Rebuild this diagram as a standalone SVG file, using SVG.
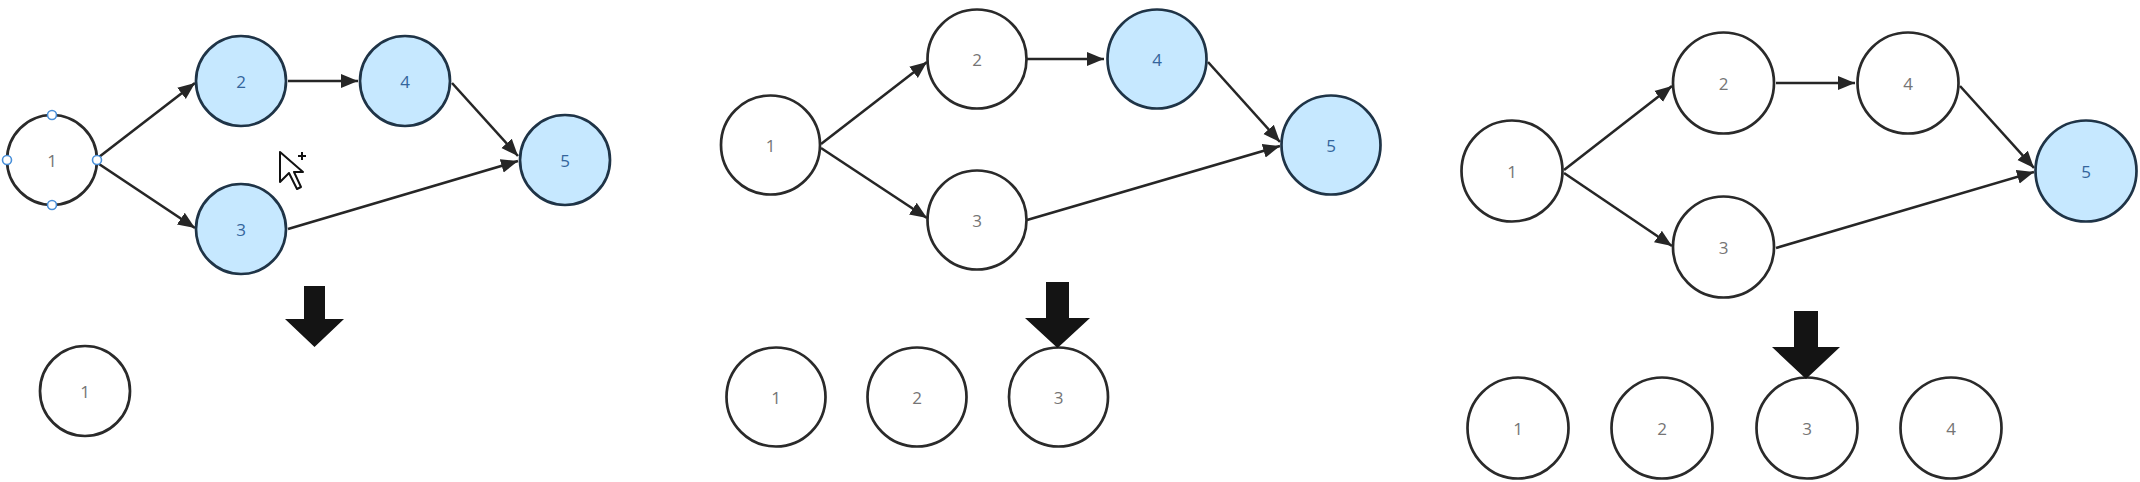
<svg xmlns="http://www.w3.org/2000/svg" width="2140" height="482" viewBox="0 0 2140 482">
<style>
.n{fill:#fff;stroke:#2a2a2a;stroke-width:2.7}
.b{fill:#c6e8ff;stroke:#1f3447;stroke-width:2.7}
.t{font-family:"Open Sans","Noto Sans",sans-serif;font-size:17px;fill:#757575;text-anchor:middle;dominant-baseline:central}
.tb{fill:#34659c}
.e{fill:none;stroke:#262626;stroke-width:2.6;marker-end:url(#ah)}
.big{fill:#141414}
.h{fill:#fff;stroke:#4a90d9;stroke-width:1.6}
</style>
<defs>
<marker id="ah" markerUnits="userSpaceOnUse" markerWidth="18" markerHeight="16" refX="17" refY="8" orient="auto">
<path d="M0 1L17 8L0 15Z" fill="#262626"/>
</marker>
</defs>
<rect width="2140" height="482" fill="#fff"/>
<g id="connectors">
<path class="e" d="M99 157L195 83"/>
<path class="e" d="M99 164L195 228"/>
<path class="e" d="M288 81L358 81"/>
<path class="e" d="M452 83L518 156"/>
<path class="e" d="M288 229L518 161"/>
<path class="e" d="M821 144L927 62"/>
<path class="e" d="M821 148L927 218"/>
<path class="e" d="M1027 59L1104 59"/>
<path class="e" d="M1208 62L1280 142"/>
<path class="e" d="M1027 220L1280 146"/>
<path class="e" d="M1564 170L1672 86"/>
<path class="e" d="M1564 173L1672 246"/>
<path class="e" d="M1776 83L1855 83"/>
<path class="e" d="M1960 86L2034 168"/>
<path class="e" d="M1776 248L2034 172"/>
</g>
<g id="panel1">
<g id="p1-n1"><circle class="n" cx="52" cy="160" r="45"/><text class="t" x="52" y="160">1</text>
<circle class="h" cx="52" cy="115" r="4.5"/><circle class="h" cx="52" cy="205" r="4.5"/><circle class="h" cx="7" cy="160" r="4.5"/><circle class="h" cx="97" cy="160" r="4.5"/></g>
<g id="p1-n2"><circle class="b" cx="241" cy="81" r="45"/><text class="t tb" x="241" y="81">2</text></g>
<g id="p1-n3"><circle class="b" cx="241" cy="229" r="45"/><text class="t tb" x="241" y="229">3</text></g>
<g id="p1-n4"><circle class="b" cx="405" cy="81" r="45"/><text class="t tb" x="405" y="81">4</text></g>
<g id="p1-n5"><circle class="b" cx="565" cy="160" r="45"/><text class="t tb" x="565" y="160">5</text></g>
<path class="big" d="M304 286H325V319H344L314.500 347L285 319H304Z"/>
<g id="p1-r1"><circle class="n" cx="85" cy="391" r="45"/><text class="t" x="85" y="391">1</text></g>
<g id="cursor">
<path d="M280 152V182L289 173L297 189L301 187L294 172H303Z" fill="#fff" stroke="#111" stroke-width="2" stroke-linejoin="round"/>
<path d="M302 152V160M298 156H306" stroke="#111" stroke-width="2" fill="none"/>
</g>
</g>
<g id="panel2">
<g id="p2-n1"><circle class="n" cx="770.5" cy="145" r="49.5"/><text class="t" x="770.5" y="145">1</text></g>
<g id="p2-n2"><circle class="n" cx="977" cy="59" r="49.5"/><text class="t" x="977" y="59">2</text></g>
<g id="p2-n3"><circle class="n" cx="977" cy="220" r="49.5"/><text class="t" x="977" y="220">3</text></g>
<g id="p2-n4"><circle class="b" cx="1157" cy="59" r="49.5"/><text class="t tb" x="1157" y="59">4</text></g>
<g id="p2-n5"><circle class="b" cx="1331" cy="145" r="49.5"/><text class="t tb" x="1331" y="145">5</text></g>
<g id="p2-r1"><circle class="n" cx="776" cy="397" r="49.5"/><text class="t" x="776" y="397">1</text></g>
<g id="p2-r2"><circle class="n" cx="917" cy="397" r="49.5"/><text class="t" x="917" y="397">2</text></g>
<g id="p2-r3"><circle class="n" cx="1058.5" cy="397" r="49.5"/><text class="t" x="1058.5" y="397">3</text></g>
<path class="big" d="M1046 282H1069V318H1090L1057.500 348L1025 318H1046Z"/>
</g>
<g id="panel3">
<g id="p3-n1"><circle class="n" cx="1512" cy="171" r="50.500"/><text class="t" x="1512" y="171">1</text></g>
<g id="p3-n2"><circle class="n" cx="1723.5" cy="83" r="50.500"/><text class="t" x="1723.5" y="83">2</text></g>
<g id="p3-n3"><circle class="n" cx="1723.5" cy="247" r="50.500"/><text class="t" x="1723.5" y="247">3</text></g>
<g id="p3-n4"><circle class="n" cx="1908" cy="83" r="50.500"/><text class="t" x="1908" y="83">4</text></g>
<g id="p3-n5"><circle class="b" cx="2086" cy="171" r="50.500"/><text class="t tb" x="2086" y="171">5</text></g>
<g id="p3-r1"><circle class="n" cx="1518" cy="428" r="50.500"/><text class="t" x="1518" y="428">1</text></g>
<g id="p3-r2"><circle class="n" cx="1662" cy="428" r="50.500"/><text class="t" x="1662" y="428">2</text></g>
<g id="p3-r3"><circle class="n" cx="1807" cy="428" r="50.500"/><text class="t" x="1807" y="428">3</text></g>
<g id="p3-r4"><circle class="n" cx="1951" cy="428" r="50.500"/><text class="t" x="1951" y="428">4</text></g>
<path class="big" d="M1794 311H1818V347H1840L1806 379L1772 347H1794Z"/>
</g>
</svg>
